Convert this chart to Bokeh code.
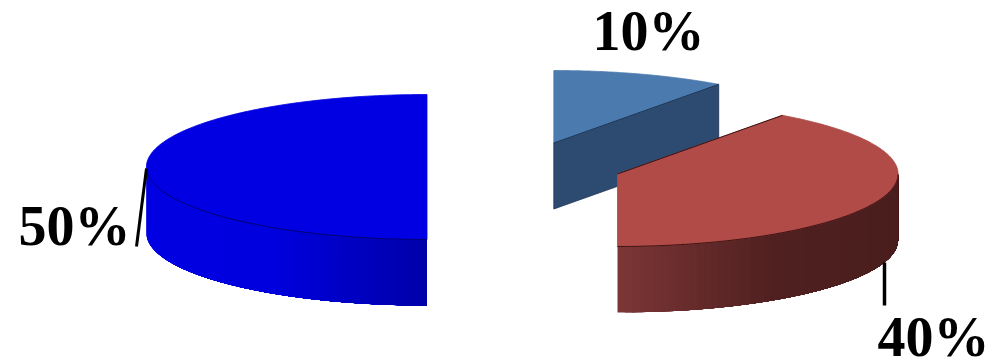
import math
from bokeh.plotting import figure
from bokeh.models import Range1d
from bokeh.core.properties import value
from bokeh.embed import file_html
from bokeh.resources import INLINE

# Shares of the pie, in drawing order
labels = ["50%", "40%", "10%"]
shares = [50, 40, 10]

# Pie geometry in page pixels
RX, RY, DEPTH = 280.6, 72.5, 66
FIRST_ANGLE = 90  # the first slice starts at twelve o'clock and runs counter-clockwise
CENTERS = [(426.5, 166.5), (617, 173.5), (553.3, 142.5)]
TOP_COLORS = ["#0000e2", "#b04b48", "#4b7aae"]
SIDE_STOPS = [
    [(0.0, (0, 0, 226)), (0.45, (0, 0, 222)), (1.0, (0, 0, 168))],
    [(0.0, (124, 54, 54)), (0.55, (80, 32, 32)), (1.0, (74, 30, 30))],
]
CUT_COLOR = "#2d4a70"
EDGE_COLORS = ["#00006e", "#3a1212", "#1c3350"]

p = figure(width=994, height=361, output_backend="svg", toolbar_location=None,
           x_range=Range1d(0, 994), y_range=Range1d(361, 0),
           min_border=0, outline_line_color=None, background_fill_color="white",
           border_fill_color="white")
p.xaxis.visible = False
p.yaxis.visible = False
p.grid.visible = False


def point(center, deg, drop=0):
    a = math.radians(deg)
    return center[0] + RX * math.cos(a), center[1] - RY * math.sin(a) + drop


def arc(center, start, end, drop=0, n=160):
    pts = [point(center, start + (end - start) * i / n, drop) for i in range(n + 1)]
    return [q[0] for q in pts], [q[1] for q in pts]


def stop_color(stops, t):
    for (t0, c0), (t1, c1) in zip(stops, stops[1:]):
        if t <= t1:
            f = (t - t0) / (t1 - t0)
            return "#%02x%02x%02x" % tuple(round(a + (b - a) * f) for a, b in zip(c0, c1))
    return "#%02x%02x%02x" % stops[-1][1]


def rim(center, start, end, stops, steps=60):
    """Front wall of a slice; each strip runs on to the far end and is painted over by the next."""
    low_x, high_x = sorted((point(center, start)[0], point(center, end)[0]))
    xs, ys, colors = [], [], []
    for i in range(steps):
        t0 = start + (end - start) * i / steps
        t1 = start + (end - start) * (i + 1) / steps
        top_x, top_y = arc(center, t0, end, n=60)
        bottom_x, bottom_y = arc(center, t0, end, drop=DEPTH, n=60)
        xs.append(top_x + bottom_x[::-1])
        ys.append(top_y + bottom_y[::-1])
        mid = (point(center, t0)[0] + point(center, t1)[0]) / 2
        colors.append(stop_color(stops, (mid - low_x) / (high_x - low_x)))
    p.patches(xs, ys, fill_color=colors, line_color=None)


# Convert the shares into slice angles
spans = [s / sum(shares) * 360 for s in shares]
starts = [FIRST_ANGLE, FIRST_ANGLE + spans[0], FIRST_ANGLE + spans[0] + spans[1]]
ends = [a + b for a, b in zip(starts, spans)]

# Blue half: front wall, then the top face
c = CENTERS[0]
rim(c, 180, ends[0], SIDE_STOPS[0])
ax, ay = arc(c, starts[0], ends[0])
p.patch(ax + [c[0]], ay + [c[1]], fill_color=TOP_COLORS[0], line_color=TOP_COLORS[0], line_width=0.8)
fx, fy = arc(c, 183, ends[0])
p.line(fx, fy, line_color=EDGE_COLORS[0], line_width=1)

# Small slice: the cut wall that faces the viewer, then its top face
c = CENTERS[2]
cut_x, cut_y = point(c, starts[2])
p.patch([c[0], cut_x, cut_x, c[0]], [c[1], cut_y, cut_y + DEPTH, c[1] + DEPTH],
        fill_color=CUT_COLOR, line_color=EDGE_COLORS[2], line_width=0.8)
ax, ay = arc(c, starts[2], ends[2])
p.patch(ax + [c[0]], ay + [c[1]], fill_color=TOP_COLORS[2], line_color=TOP_COLORS[2], line_width=0.8)
p.line([c[0], cut_x], [c[1], cut_y], line_color=EDGE_COLORS[2], line_width=1)

# Red slice: front wall, then the top face
c = CENTERS[1]
rim(c, starts[1], 360, SIDE_STOPS[1])
ax, ay = arc(c, starts[1], ends[1])
p.patch(ax + [c[0]], ay + [c[1]], fill_color=TOP_COLORS[1], line_color=TOP_COLORS[1], line_width=0.8)
fx, fy = arc(c, starts[1], 360)
p.line(fx, fy, line_color=EDGE_COLORS[1], line_width=1)
ux, uy = point(c, ends[1])
p.line([c[0], ux], [c[1], uy], line_color=EDGE_COLORS[1], line_width=1)

# Leader lines from the slices to their labels
p.line([146, 136], [168, 246], line_color="black", line_width=3)
p.line([884, 884], [262, 305], line_color="black", line_width=3.5)

# Percentage labels, placed by the vertical middle of their line box
LABEL_X = [18, 877, 592]
LABEL_Y = [225, 336, 30]
p.text(LABEL_X, LABEL_Y, text=labels, text_font=value("Liberation Serif"),
       text_font_style="bold", text_font_size="56px", text_color="black",
       text_align="left", text_baseline="middle")

open("out.html", "w").write(file_html(p, INLINE))
